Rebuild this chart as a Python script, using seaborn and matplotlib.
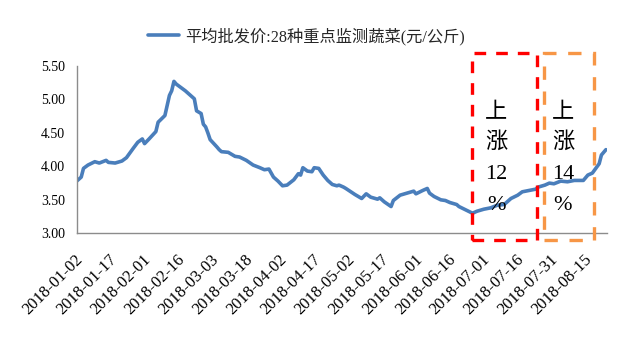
import pandas as pd
import matplotlib
matplotlib.use("Agg")
import matplotlib.pyplot as plt
from matplotlib.patches import Rectangle
from matplotlib.transforms import ScaledTranslation
from matplotlib.font_manager import FontProperties
import seaborn as sns

# Daily average wholesale price of 28 key monitored vegetables, 2018
dates = [
    "2018-01-02", "2018-01-04", "2018-01-05", "2018-01-07", "2018-01-10", "2018-01-12",
    "2018-01-15", "2018-01-16", "2018-01-19", "2018-01-22", "2018-01-24", "2018-01-27",
    "2018-01-29", "2018-01-31", "2018-02-01", "2018-02-03", "2018-02-06", "2018-02-07",
    "2018-02-10", "2018-02-11", "2018-02-12", "2018-02-13", "2018-02-14", "2018-02-15",
    "2018-02-19", "2018-02-23", "2018-02-24", "2018-02-26", "2018-02-27", "2018-02-28",
    "2018-03-01", "2018-03-02", "2018-03-05", "2018-03-06", "2018-03-07", "2018-03-10",
    "2018-03-13", "2018-03-15", "2018-03-18", "2018-03-21", "2018-03-24", "2018-03-26",
    "2018-03-28", "2018-03-30", "2018-04-01", "2018-04-03", "2018-04-05", "2018-04-08",
    "2018-04-10", "2018-04-11", "2018-04-12", "2018-04-14", "2018-04-16", "2018-04-17",
    "2018-04-19", "2018-04-21", "2018-04-23", "2018-04-25", "2018-04-27", "2018-04-28",
    "2018-04-30", "2018-05-01", "2018-05-05", "2018-05-08", "2018-05-10", "2018-05-12",
    "2018-05-15", "2018-05-16", "2018-05-18", "2018-05-21", "2018-05-22", "2018-05-25",
    "2018-05-28", "2018-05-31", "2018-06-01", "2018-06-04", "2018-06-06", "2018-06-07",
    "2018-06-09", "2018-06-12", "2018-06-14", "2018-06-16", "2018-06-19", "2018-06-20",
    "2018-06-23", "2018-06-26", "2018-06-28", "2018-07-01", "2018-07-04", "2018-07-07",
    "2018-07-10", "2018-07-13", "2018-07-16", "2018-07-18", "2018-07-21", "2018-07-24",
    "2018-07-25", "2018-07-28", "2018-07-30", "2018-08-01", "2018-08-04", "2018-08-07",
    "2018-08-10", "2018-08-14", "2018-08-16", "2018-08-18", "2018-08-21", "2018-08-22",
    "2018-08-24",
]
prices = [
    3.78, 3.84, 3.97, 4.02, 4.07, 4.05,
    4.09, 4.06, 4.05, 4.08, 4.13, 4.27,
    4.36, 4.41, 4.34, 4.41, 4.52, 4.66,
    4.76, 4.91, 5.06, 5.13, 5.27, 5.23,
    5.13, 5.01, 4.83, 4.79, 4.63, 4.59,
    4.50, 4.40, 4.29, 4.25, 4.22, 4.21,
    4.15, 4.14, 4.09, 4.02, 3.98, 3.95,
    3.96, 3.84, 3.78, 3.71, 3.72, 3.80,
    3.89, 3.87, 3.98, 3.93, 3.92, 3.98,
    3.97, 3.87, 3.79, 3.73, 3.71, 3.72,
    3.69, 3.67, 3.58, 3.52, 3.59, 3.54,
    3.51, 3.53, 3.47, 3.40, 3.49, 3.57,
    3.60, 3.63, 3.59, 3.64, 3.67, 3.60,
    3.55, 3.50, 3.49, 3.46, 3.43, 3.40,
    3.35, 3.30, 3.33, 3.36, 3.38, 3.42,
    3.43, 3.52, 3.57, 3.62, 3.64, 3.66,
    3.69, 3.72, 3.75, 3.74, 3.78, 3.77,
    3.79, 3.79, 3.87, 3.90, 4.04, 4.17,
    4.25,
]
series_name = "平均批发价:28种重点监测蔬菜(元/公斤)"

tick_labels = [
    "2018-01-02", "2018-01-17", "2018-02-01", "2018-02-16", "2018-03-03", "2018-03-18",
    "2018-04-02", "2018-04-17", "2018-05-02", "2018-05-17", "2018-06-01", "2018-06-16",
    "2018-07-01", "2018-07-16", "2018-07-31", "2018-08-15",
]
y_ticks = [3.00, 3.50, 4.00, 4.50, 5.00, 5.50]

# Highlighted rise periods: (start, end, label lines)
rise_starts = ["2018-06-25 14:00", "2018-07-27 17:00"]
rise_ends = ["2018-07-24 14:00", "2018-08-18 12:00"]
rise_labels = [["上", "涨", "12", "%"], ["上", "涨", "14", "%"]]
rise_label_x = ["2018-07-06 12:00", "2018-08-05 00:00"]

sns.set_style("white")
mixed_font = ["Liberation Serif", "Noto Sans CJK SC", "DejaVu Sans"]
plt.rcParams["font.family"] = mixed_font

W, H = 618, 343
fig = plt.figure(figsize=(W / 100, H / 100), dpi=100)
ax = fig.add_axes([76.7 / W, 1 - 233.3 / H, (606.7 - 76.7) / W, (233.3 - 66) / H])

df = pd.DataFrame({"date": pd.to_datetime(dates), "price": prices})
sns.lineplot(data=df, x="date", y="price", ax=ax, color="#4A7EBB",
             linewidth=2.6, label=series_name)

ax.set_xlim(pd.Timestamp("2018-01-02"), pd.Timestamp("2018-08-24 08:00"))
ax.set_ylim(3.0, 5.5)
ax.set_yticks(y_ticks)
ax.set_yticklabels([f"{v:.2f}" for v in y_ticks], fontsize=10)
ax.set_xticks(pd.to_datetime(tick_labels))
ax.set_xticklabels(tick_labels, rotation=45, ha="right", va="center",
                   rotation_mode="anchor", fontsize=12)
ax.set_xlabel("")
ax.set_ylabel("")

axis_gray = "#8C8C8C"
for side in ["top", "right"]:
    ax.spines[side].set_visible(False)
for side in ["left", "bottom"]:
    ax.spines[side].set_color(axis_gray)
    ax.spines[side].set_linewidth(1.0)
ax.tick_params(axis="both", direction="out", length=4.3, width=1.0, color=axis_gray,
               labelcolor="black")
ax.tick_params(axis="y", pad=4)
ax.tick_params(axis="x", pad=13)
ax.grid(False)
shift = ScaledTranslation(4 / 100, 0, fig.dpi_scale_trans)
for lab in ax.get_xticklabels():
    lab.set_transform(lab.get_transform() + shift)

leg = ax.legend(loc="center", bbox_to_anchor=(306.5 / W, 1 - 36 / H),
                bbox_transform=fig.transFigure, frameon=False,
                handlelength=1.9, handletextpad=0.4,
                prop=FontProperties(family=mixed_font, size=11.7))

# Dashed boxes marking the two rise periods
box_colors = ["#FF0000", "#F79646"]
box_dashes = [(0, (3.5, 3.0)), (0, (4.0, 3.5))]
y_bottom, y_top = 2.90, 5.695
text_rows = [4.795, 4.35, 3.873, 3.41]
for start, end, color, dash, lines, tx in zip(rise_starts, rise_ends, box_colors,
                                              box_dashes, rise_labels, rise_label_x):
    x0 = matplotlib.dates.date2num(pd.Timestamp(start))
    x1 = matplotlib.dates.date2num(pd.Timestamp(end))
    rect = Rectangle((x0, y_bottom), x1 - x0, y_top - y_bottom, fill=False,
                     edgecolor=color, linewidth=2.4, linestyle=dash,
                     clip_on=False, zorder=5)
    ax.add_patch(rect)
    xt = matplotlib.dates.date2num(pd.Timestamp(tx))
    for line, yv in zip(lines, text_rows):
        ax.text(xt, yv, line, ha="center", va="center", fontsize=16,
                family=mixed_font, color="black", zorder=6, clip_on=False)

fig.savefig("out.png", dpi=100, facecolor="white")
